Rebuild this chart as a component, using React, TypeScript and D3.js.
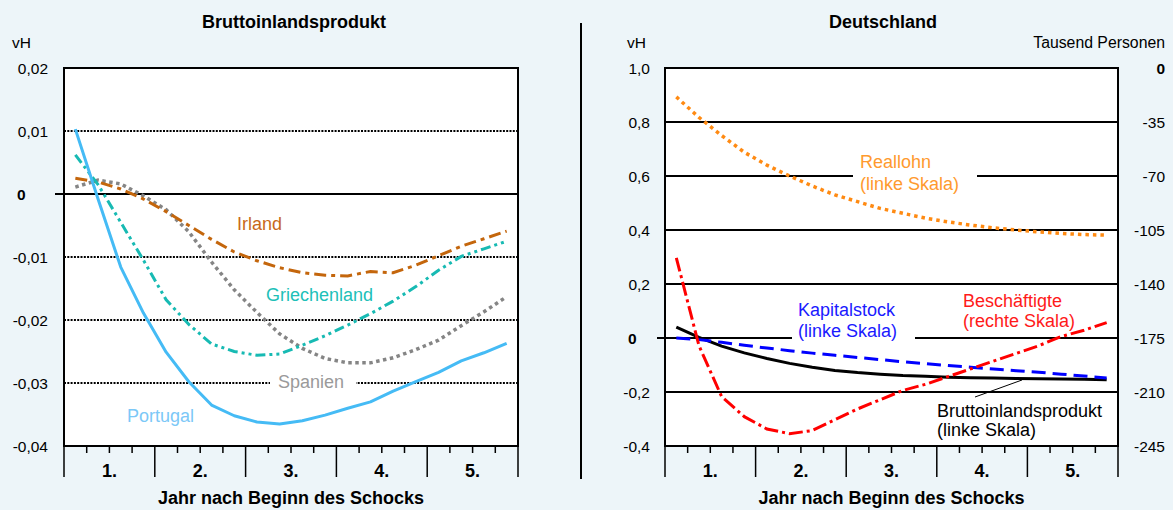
import React, { useEffect } from 'react'
import * as d3 from 'd3'

// quarterly values, 5 years x 4 quarters
const years = ['1.', '2.', '3.', '4.', '5.']

// left panel: Bruttoinlandsprodukt (vH)
const portugal = [0.0103, -0.0008, -0.0116, -0.0189, -0.0251, -0.0298, -0.0335, -0.0352, -0.0362, -0.0365,
  -0.036, -0.0351, -0.034, -0.033, -0.0313, -0.0298, -0.0283, -0.0265, -0.0252, -0.0237]
const irland = [0.0025, 0.0019, 0.0008, -0.0008, -0.0028, -0.005, -0.0072, -0.0092, -0.0106, -0.0117,
  -0.0125, -0.0129, -0.013, -0.0123, -0.0125, -0.0113, -0.0098, -0.0083, -0.0071, -0.0059]
const griechenland = [0.0062, 0.0015, -0.0045, -0.0105, -0.0168, -0.0207, -0.0238, -0.025, -0.0256, -0.0254,
  -0.024, -0.0225, -0.0208, -0.019, -0.017, -0.0147, -0.0121, -0.0099, -0.0087, -0.0075]
const spanien = [0.0011, 0.0022, 0.0016, -0.0003, -0.0025, -0.006, -0.0108, -0.0152, -0.0188, -0.0222,
  -0.0245, -0.0261, -0.0268, -0.0268, -0.026, -0.0247, -0.0232, -0.0209, -0.0187, -0.0163]
const leftTicks = [0.02, 0.01, 0, -0.01, -0.02, -0.03, -0.04]
const leftTickLabels = ['0,02', '0,01', '0', '-0,01', '-0,02', '-0,03', '-0,04']

// right panel: Deutschland
const reallohn = [0.893, 0.817, 0.75, 0.688, 0.64, 0.6, 0.563, 0.53, 0.505, 0.48,
  0.462, 0.444, 0.43, 0.418, 0.408, 0.4, 0.393, 0.387, 0.383, 0.381]
const kapitalstock = [0, -0.006, -0.016, -0.027, -0.037, -0.047, -0.056, -0.064, -0.072, -0.08,
  -0.088, -0.095, -0.102, -0.108, -0.115, -0.121, -0.127, -0.134, -0.141, -0.148]
const bipDe = [0.04, 0.002, -0.03, -0.055, -0.076, -0.094, -0.108, -0.12, -0.128, -0.134,
  -0.139, -0.142, -0.145, -0.147, -0.148, -0.15, -0.151, -0.152, -0.153, -0.155]
const beschaeftigte = [-123, -180, -213, -226, -234, -237, -235, -228, -221, -215,
  -209, -205, -200, -195, -190, -185, -180, -174, -170, -165]
const rightLeftTicks = [1.0, 0.8, 0.6, 0.4, 0.2, 0, -0.2, -0.4]
const rightLeftTickLabels = ['1,0', '0,8', '0,6', '0,4', '0,2', '0', '-0,2', '-0,4']
const rightTicks = [0, -35, -70, -105, -140, -175, -210, -245]
const rightTickLabels = ['0', '-35', '-70', '-105', '-140', '-175', '-210', '-245']

const FONT = '"Liberation Sans", Arial, Helvetica, sans-serif'
const TOP = 68
const BOTTOM = 446

const XAxis = ({ x }: { x: d3.ScaleLinear<number, number> }) => {
  const quarters = d3.range(21)
  return (
    <g>
      {quarters.map(q => (
        <line key={q} x1={x(q)} x2={x(q)} y1={BOTTOM} y2={q % 4 === 0 ? 477 : 453}
          stroke="#000" strokeWidth={1.5} />
      ))}
      {years.map((yr, i) => (
        <text key={yr} x={x(i * 4 + 2)} y={477} textAnchor="middle" fontWeight="bold" fontSize={18}>{yr}</text>
      ))}
      <text x={(x(0) + x(20)) / 2} y={504} textAnchor="middle" fontWeight="bold" fontSize={18}>
        Jahr nach Beginn des Schocks
      </text>
    </g>
  )
}

const LeftChart = () => {
  const x = d3.scaleLinear().domain([0, 20]).range([64, 518])
  const y = d3.scaleLinear().domain([-0.04, 0.02]).range([BOTTOM, TOP])
  const line = d3.line<number>().x((d, i) => x(i + 0.5)).y(d => y(d))

  return (
    <g>
      <text x={294} y={28} textAnchor="middle" fontWeight="bold" fontSize={18}>Bruttoinlandsprodukt</text>
      <text x={12} y={48} fontSize={15.5}>vH</text>
      <rect x={64} y={TOP} width={454} height={BOTTOM - TOP} fill="#fff" />
      {leftTicks.filter(t => t !== 0 && t !== 0.02 && t !== -0.04).map(t => (
        <line key={t} x1={64} x2={518} y1={y(t)} y2={y(t)} stroke="#000" strokeWidth={2} strokeDasharray="2,1.3" />
      ))}
      <line x1={55} x2={518} y1={y(0)} y2={y(0)} stroke="#000" strokeWidth={2} />
      {leftTicks.map((t, i) => (
        t === 0
          ? <text key={t} x={17} y={y(t) + 5.5} fontWeight="bold" fontSize={15.5}>0</text>
          : <text key={t} x={48} y={y(t) + 5.5} textAnchor="end" fontSize={15.5}>{leftTickLabels[i]}</text>
      ))}
      {/* label box interrupting the -0,03 gridline */}
      <rect x={270} y={y(-0.03) - 6} width={86} height={12} fill="#fff" />
      <path d={line(spanien) ?? ''} fill="none" stroke="#858585" strokeWidth={3.5} strokeDasharray="3.5,3.5" />
      <path d={line(irland) ?? ''} fill="none" stroke="#c4660c" strokeWidth={3} strokeDasharray="12,5,4,5" />
      <path d={line(griechenland) ?? ''} fill="none" stroke="#17bab3" strokeWidth={3} strokeDasharray="10,4,3,4,3,4" />
      <path d={line(portugal) ?? ''} fill="none" stroke="#45bbf5" strokeWidth={3} strokeLinejoin="round" />
      <rect x={64} y={TOP} width={454} height={BOTTOM - TOP} fill="none" stroke="#000" strokeWidth={2} />
      <text x={237} y={230} fontSize={18} fill="#c8691a">Irland</text>
      <text x={266} y={301} fontSize={18} fill="#20bfb8">Griechenland</text>
      <text x={278} y={388} fontSize={18} fill="#9a9a9a">Spanien</text>
      <text x={127} y={422} fontSize={18} fill="#7cc8f7">Portugal</text>
      <XAxis x={x} />
    </g>
  )
}

const RightChart = () => {
  const x = d3.scaleLinear().domain([0, 20]).range([665, 1118])
  const yL = d3.scaleLinear().domain([-0.4, 1.0]).range([BOTTOM, TOP])
  const yR = d3.scaleLinear().domain([-245, 0]).range([BOTTOM, TOP])
  const lineL = d3.line<number>().x((d, i) => x(i + 0.5)).y(d => yL(d))
  const lineR = d3.line<number>().x((d, i) => x(i + 0.5)).y(d => yR(d))

  return (
    <g>
      <text x={883} y={28} textAnchor="middle" fontWeight="bold" fontSize={18}>Deutschland</text>
      <text x={627} y={48} fontSize={15.5}>vH</text>
      <text x={1165} y={48} textAnchor="end" fontSize={15.8}>Tausend Personen</text>
      <rect x={665} y={TOP} width={453} height={BOTTOM - TOP} fill="#fff" />
      {rightLeftTicks.filter(t => t < 0.99 && t > -0.39).map(t => (
        <line key={t} x1={t === 0 ? 657 : 665} x2={1118} y1={yL(t)} y2={yL(t)} stroke="#000" strokeWidth={2} />
      ))}
      {rightLeftTicks.map((t, i) => (
        t === 0
          ? <text key={t} x={628} y={yL(t) + 5.5} fontWeight="bold" fontSize={15.5}>0</text>
          : <text key={t} x={650} y={yL(t) + 5.5} textAnchor="end" fontSize={15.5}>{rightLeftTickLabels[i]}</text>
      ))}
      {rightTicks.map((t, i) => (
        <text key={t} x={1165} y={yR(t) + 5.5} textAnchor="end" fontSize={15.5}
          fontWeight={t === 0 ? 'bold' : 'normal'}>{rightTickLabels[i]}</text>
      ))}
      {/* label boxes interrupting gridlines */}
      <rect x={853} y={yL(0.6) - 6} width={124} height={12} fill="#fff" />
      <rect x={792} y={yL(0) - 6} width={123} height={12} fill="#fff" />
      <path d={lineL(reallohn) ?? ''} fill="none" stroke="#ff8a12" strokeWidth={3.5} strokeDasharray="3.5,4" />
      <path d={lineL(bipDe) ?? ''} fill="none" stroke="#000" strokeWidth={3} />
      <path d={lineL(kapitalstock) ?? ''} fill="none" stroke="#0000ff" strokeWidth={3} strokeDasharray="14,7" />
      <path d={lineR(beschaeftigte) ?? ''} fill="none" stroke="#ff0000" strokeWidth={3} strokeDasharray="14,4,3,4" />
      <rect x={665} y={TOP} width={453} height={BOTTOM - TOP} fill="none" stroke="#000" strokeWidth={2} />
      <g fontSize={18}>
        <text x={860} y={168} fill="#ff9a2e">Reallohn</text>
        <text x={860} y={190} fill="#ff9a2e">(linke Skala)</text>
        <text x={798} y={316} fill="#1a1aff">Kapitalstock</text>
        <text x={798} y={337} fill="#1a1aff">(linke Skala)</text>
        <text x={963} y={307} fill="#ff1a1a">Beschäftigte</text>
        <text x={963} y={327} fill="#ff1a1a">(rechte Skala)</text>
        <text x={937} y={417} fill="#000">Bruttoinlandsprodukt</text>
        <text x={937} y={436} fill="#000">(linke Skala)</text>
      </g>
      <line x1={975} y1={397} x2={1022} y2={380} stroke="#000" strokeWidth={1} />
      <XAxis x={x} />
    </g>
  )
}

export default function App() {
  useEffect(() => {
    document.body.style.margin = '0'
  }, [])
  return (
    <svg width={1173} height={510} style={{ display: 'block', background: '#edf5f9', fontFamily: FONT }}>
      <rect width={1173} height={510} fill="#edf5f9" />
      <LeftChart />
      <line x1={581} x2={581} y1={23} y2={479} stroke="#000" strokeWidth={2} />
      <RightChart />
    </svg>
  )
}
